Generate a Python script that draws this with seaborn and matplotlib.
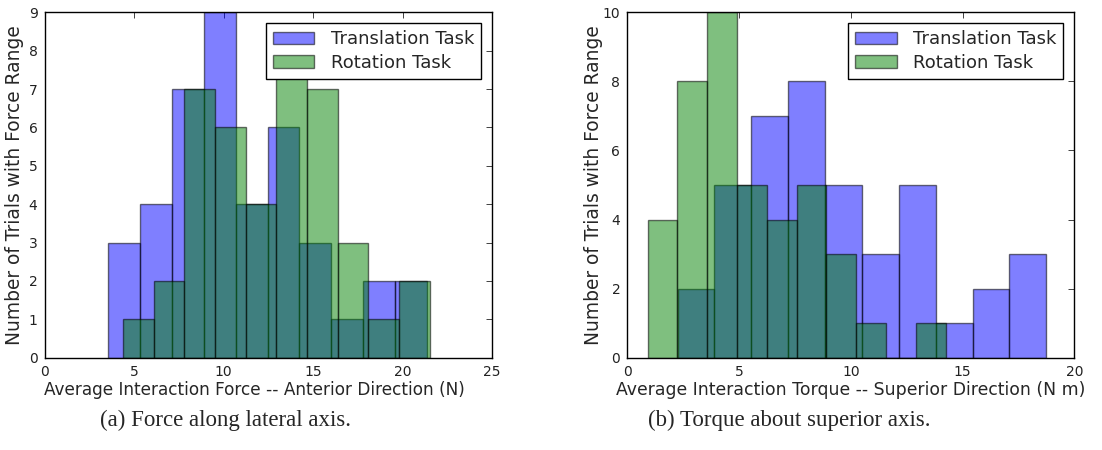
import numpy as np
import matplotlib
matplotlib.use("Agg")
import matplotlib.pyplot as plt
import seaborn as sns

# Histogram bins and counts, lateral-axis force
force_trans_edges = [3.56, 5.34, 7.12, 8.90, 10.68, 12.46, 14.24, 16.02, 17.80, 19.58, 21.36]
force_trans_counts = [3, 4, 7, 9, 4, 6, 3, 1, 2, 2]
force_rot_edges = [4.40, 6.11, 7.82, 9.54, 11.25, 12.96, 14.67, 16.38, 18.10, 19.81, 21.52]
force_rot_counts = [1, 2, 7, 6, 4, 8, 7, 3, 1, 2]

# Histogram bins and counts, superior-axis torque
torque_trans_edges = [2.25, 3.90, 5.55, 7.20, 8.85, 10.50, 12.15, 13.80, 15.45, 17.10, 18.75]
torque_trans_counts = [2, 5, 7, 8, 5, 3, 5, 1, 2, 3]
torque_rot_edges = [0.91, 2.24, 3.58, 4.91, 6.25, 7.58, 8.91, 10.25, 11.58, 12.92, 14.25]
torque_rot_counts = [4, 8, 10, 5, 4, 5, 3, 1, 0, 1]

series_labels = ["Translation Task", "Rotation Task"]
force_xlabel = "Average Interaction Force -- Anterior Direction (N)"
torque_xlabel = "Average Interaction Torque -- Superior Direction (N m)"
ylabel = "Number of Trials with Force Range"
captions = ["(a) Force along lateral axis.", "(b) Torque about superior axis."]

sns.set_style("white")
plt.rcParams["font.family"] = ["DejaVu Sans"]
plt.rcParams.update({
    "xtick.direction": "in", "ytick.direction": "in",
    "xtick.top": True, "ytick.right": True,
    "xtick.major.size": 4, "ytick.major.size": 4,
    "xtick.major.width": 0.6, "ytick.major.width": 0.6,
    "axes.edgecolor": "black", "axes.linewidth": 1.0,
    "xtick.color": "#222222", "ytick.color": "#222222",
})

fig = plt.figure(figsize=(11.02, 4.5), dpi=100)
W, H = 1102, 450
ax1 = fig.add_axes([44.5 / W, 1 - 357.7 / H, (492 - 44.5) / W, (357.7 - 12.3) / H])
ax2 = fig.add_axes([627.3 / W, 1 - 357.7 / H, (1074.3 - 627.3) / W, (357.7 - 12.3) / H])


def centers(edges):
    e = np.asarray(edges)
    return (e[:-1] + e[1:]) / 2


def draw(ax, t_edges, t_counts, r_edges, r_counts):
    sns.histplot(x=centers(t_edges), weights=t_counts, bins=t_edges, ax=ax,
                 color="blue", alpha=0.5, edgecolor="black", linewidth=1.0,
                 label=series_labels[0])
    sns.histplot(x=centers(r_edges), weights=r_counts, bins=r_edges, ax=ax,
                 color="green", alpha=0.5, edgecolor="black", linewidth=1.0,
                 label=series_labels[1])
    for p in ax.patches:
        p.set_edgecolor((0, 0, 0, 0.55))
    leg = ax.legend(loc="upper right", fancybox=False, frameon=True,
                    fontsize=13, handlelength=2.3, borderaxespad=0.6,
                    labelspacing=0.3, handletextpad=0.9, borderpad=0.4)
    leg.get_frame().set_edgecolor("black")
    leg.get_frame().set_linewidth(1.0)
    leg.get_frame().set_alpha(1.0)
    ax.tick_params(labelsize=10, pad=5)
    ax.set_ylabel(ylabel, fontsize=13.4)


draw(ax1, force_trans_edges, force_trans_counts, force_rot_edges, force_rot_counts)
ax1.set_xlim(0, 25)
ax1.set_ylim(0, 9)
ax1.set_xticks(range(0, 26, 5))
ax1.set_yticks(range(0, 10))
ax1.set_xlabel(force_xlabel, fontsize=12.2, labelpad=2)
ax1.xaxis.label.set_x(0.468)
ax1.yaxis.set_label_coords(-0.045, 0.5)

draw(ax2, torque_trans_edges, torque_trans_counts, torque_rot_edges, torque_rot_counts)
ax2.set_xlim(0, 20)
ax2.set_ylim(0, 10)
ax2.set_xticks(range(0, 21, 5))
ax2.set_yticks(range(0, 11, 2))
ax2.set_xlabel(torque_xlabel, fontsize=12.4, labelpad=2)
ax2.yaxis.set_label_coords(-0.054, 0.5)

for xc, cap in zip((226, 789), captions):
    fig.text(xc / W, 1 - 420 / H, cap, ha="center", va="center",
             fontsize=16.5, family="Liberation Serif")

fig.savefig("out.png", dpi=100, facecolor="white")
